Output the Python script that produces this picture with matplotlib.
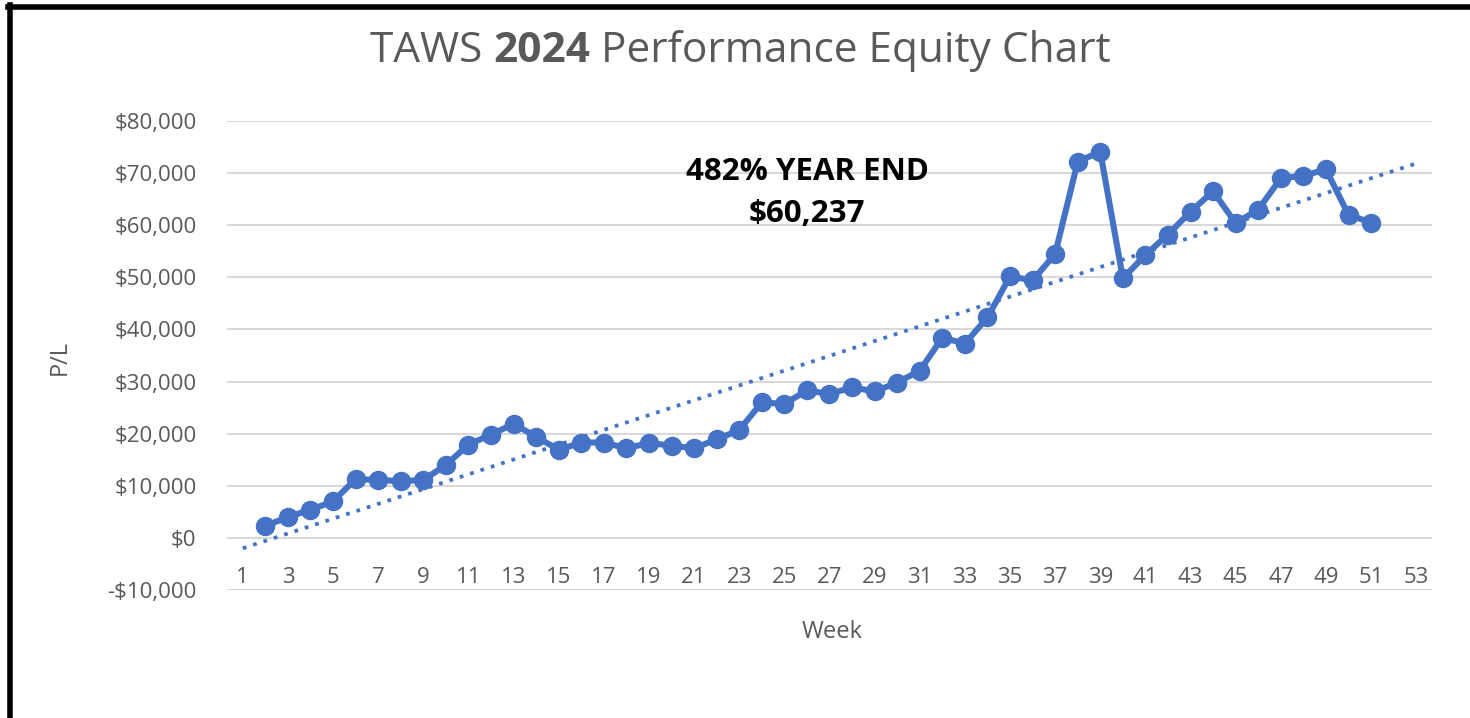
import numpy as np
import matplotlib
matplotlib.use("Agg")
import matplotlib.pyplot as plt
from matplotlib.ticker import FuncFormatter

plt.rcParams['font.family'] = ['Open Sans', 'DejaVu Sans']

# weekly P/L values (weeks 2..51)
weeks = list(range(2, 52))
pl = [2300, 4000, 5400, 7000, 11300, 11100, 10900, 11100, 14000, 17900,
      19800, 21900, 19400, 16900, 18300, 18300, 17200, 18200, 17700, 17200,
      18900, 20700, 26000, 25700, 28300, 27600, 28900, 28100, 29800, 32100,
      38400, 37300, 42300, 50200, 49400, 54500, 72200, 74100, 49800, 54300,
      58200, 62600, 66500, 60400, 63000, 69000, 69500, 70700, 62000, 60500]
tick_weeks = list(range(1, 54, 2))
y_ticks = list(range(-10000, 80001, 10000))

blue = '#4472C4'
grey = '#595959'

fig = plt.figure(figsize=(14.7, 7.18), dpi=100)
W, H = 1470, 718
ax = fig.add_axes([227 / W, (H - 590) / H, (1432 - 227) / W, (590 - 121) / H])

ax.set_xlim(0.3, 53.7)
ax.set_ylim(-10000, 80000)
ax.set_yticks(y_ticks)
ax.yaxis.set_major_formatter(FuncFormatter(lambda v, p: ('-$' if v < 0 else '$') + f"{abs(int(v)):,}"))
ax.set_xticks(tick_weeks)
ax.grid(axis='y', color='#D9D9D9', lw=1.5)
ax.set_axisbelow(True)
for s in ax.spines.values():
    s.set_visible(False)
ax.spines['bottom'].set_position(('data', 0))
ax.tick_params(axis='both', length=0, labelsize=16, labelcolor=grey)
ax.tick_params(axis='y', pad=22)
ax.tick_params(axis='x', pad=21)

# linear trendline (forecast 1 back, 2 forward)
coef = np.polyfit(weeks, pl, 1)
tx = np.array([1, 53])
ax.plot(tx, np.polyval(coef, tx), color=blue, lw=2.7, linestyle=(0, (1, 1.9)),
        dash_capstyle='butt', zorder=2)

ax.plot(weeks, pl, color=blue, lw=4.4, marker='o', markersize=13, zorder=3)

fig.text(807 / W, (H - 180) / H, '482% YEAR END', ha='center', va='baseline',
         fontsize=22.5, fontweight='bold', color='black')
fig.text(807 / W, (H - 222) / H, '$60,237', ha='center', va='baseline',
         fontsize=22.5, fontweight='bold', color='black')

# title with bold year, pieces chained left to right
t1 = fig.text(370 / W, (H - 62) / H, 'TAWS ', ha='left', va='baseline', fontsize=30.5, color=grey)
t2 = plt.annotate('2024', xy=(1, 0), xycoords=t1, ha='left', va='bottom', fontsize=30.5,
                  fontweight='bold', color=grey, annotation_clip=False)
plt.annotate(' Performance Equity Chart', xy=(1, 0), xycoords=t2, ha='left', va='bottom',
             fontsize=30.5, color=grey, annotation_clip=False)

fig.text(832 / W, (H - 632) / H, 'Week', ha='center', va='center', fontsize=17, color=grey)
fig.text(60 / W, (H - 357) / H, 'P/L', ha='center', va='center', fontsize=17, color=grey, rotation=90)

# black frame on top and left
fig.add_artist(plt.Line2D([8 / W, 1], [(H - 7) / H, (H - 7) / H], color='black', lw=4, transform=fig.transFigure))
fig.add_artist(plt.Line2D([10 / W, 10 / W], [0, (H - 5) / H], color='black', lw=4, transform=fig.transFigure))

fig.savefig('out.png', dpi=100, facecolor='white')
